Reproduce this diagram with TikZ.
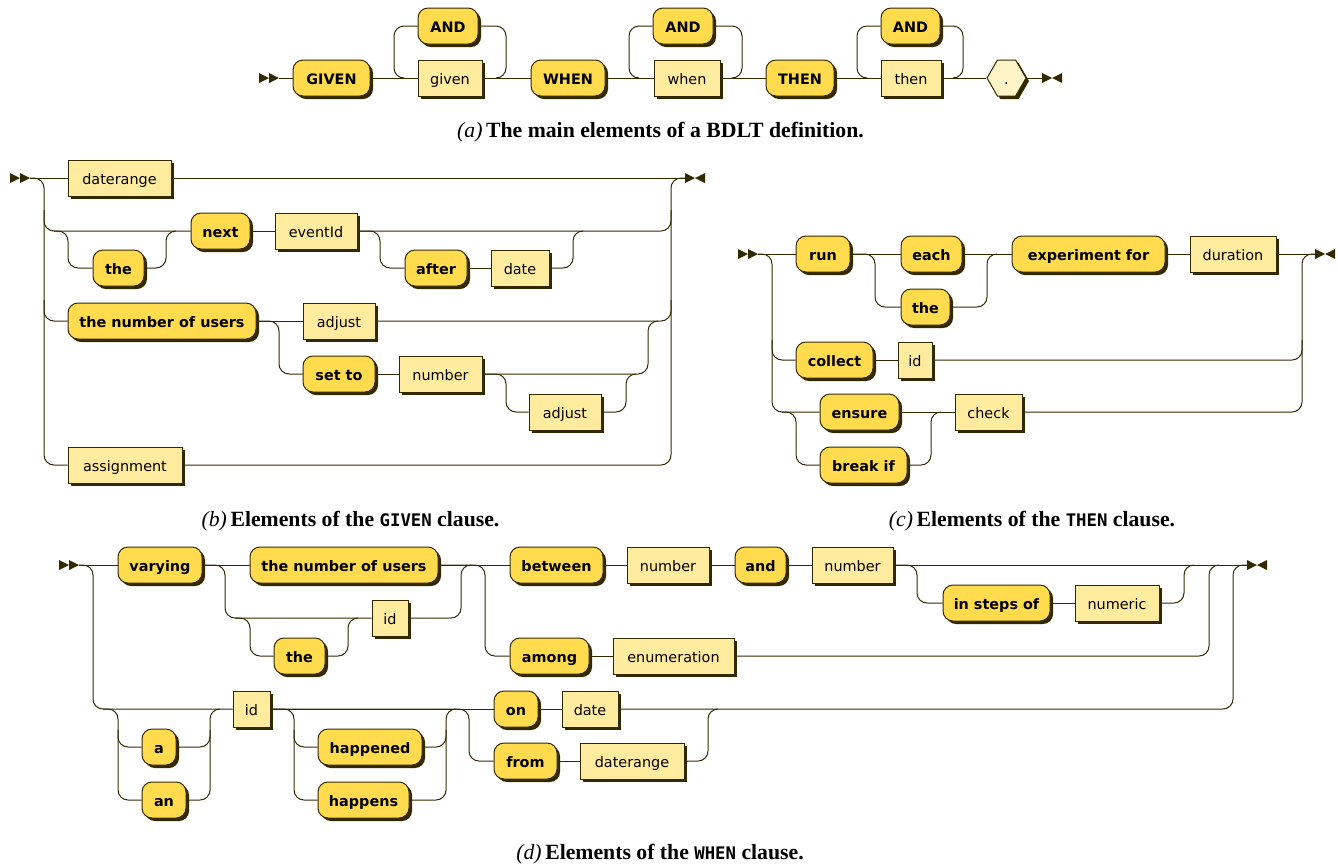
\documentclass[tikz,border=0pt]{standalone}
\usepackage{fontspec}
\setmainfont{Liberation Serif}
\newfontfamily\rrfont{DejaVu Sans}
\newfontfamily\capmono{DejaVu Sans Mono}
\usetikzlibrary{shadows,shapes.symbols}
\definecolor{rrline}{HTML}{332900}
\definecolor{rrterm}{HTML}{FFDB4D}
\definecolor{rrnon}{HTML}{FFEC9E}
\definecolor{rrre}{HTML}{FFF4C7}
\tikzset{
 rrbox/.style={draw=rrline, line width=0.75pt, inner sep=0pt, minimum height=27pt,
   text height=9pt, text depth=0pt, text=black,
   font=\rrfont\fontsize{10.8}{12}\selectfont,
   drop shadow={shadow xshift=2.25pt, shadow yshift=-2.25pt, opacity=1, fill=rrline}},
 term/.style={rrbox, fill=rrterm, rounded corners=7.5pt, font=\rrfont\bfseries\fontsize{10.8}{12}\selectfont},
 nonterm/.style={rrbox, fill=rrnon},
 hexbox/.style={rrbox, fill=rrre, shape=signal, signal to=east and west, signal pointer angle=120},
 bw/.style={minimum width=#1*0.75pt},
 rr/.style={draw=rrline, line width=0.75pt, rounded corners=7.5pt},
 captxt/.style={anchor=base, text=black, font=\bfseries\fontsize{16.3}{19}\selectfont},
 startmark/.pic={\fill[rrline] (-20,-5) -- (-10,0) -- (-20,5) -- cycle (-10,-5) -- (0,0) -- (-10,5) -- cycle;},
 endmark/.pic={\fill[rrline] (0,-5) -- (10,0) -- (0,5) -- cycle (20,-5) -- (10,0) -- (20,5) -- cycle;},
}
\newcommand{\capit}[1]{{\mdseries\itshape #1}\,}
\newcommand{\capcode}[1]{{\capmono\fontsize{13}{16}\selectfont #1}}
\begin{document}
\begin{tikzpicture}[x=0.75pt,y=-0.75pt]
\useasboundingbox (0,0) rectangle (1338,865);
% ---------------- (a)
\pic at (279,78) {startmark}; \coordinate (sa) at (279,78);
\node[term,bw=77] (GIVEN) at (331.5,78) {GIVEN};
\node[term,bw=60] (and1) at (448,26) {AND};
\node[nonterm,bw=64] (given) at (450,78) {given};
\node[term,bw=74] (WHEN) at (568,78) {WHEN};
\node[term,bw=60] (and2) at (683,26) {AND};
\node[nonterm,bw=66] (when) at (687,78) {when};
\node[term,bw=68] (THEN) at (800,78) {THEN};
\node[term,bw=59] (and3) at (910.5,26) {AND};
\node[nonterm,bw=60] (then) at (911,78) {then};
\node[hexbox,bw=39] (dot) at (1006.5,78) {.};
\pic at (1042,78) {endmark}; \coordinate (ea) at (1042,78);
\draw[rr] (sa) -- (GIVEN.west);
\draw[rr] (GIVEN.east) -- (given.west);
\draw[rr] (given.east) -- (WHEN.west);
\draw[rr] (WHEN.east) -- (when.west);
\draw[rr] (when.east) -- (THEN.west);
\draw[rr] (THEN.east) -- (then.west);
\draw[rr] (then.east) -- (dot.west);
\draw[rr] (dot.east) -- (ea);
\draw[rr] (and1.west) -- (394,26) -- (394,78) -- (404,78);
\draw[rr] (and1.east) -- (506,26) -- (506,78) -- (496,78);
\draw[rr] (and2.west) -- (629,26) -- (629,78) -- (639,78);
\draw[rr] (and2.east) -- (742,26) -- (742,78) -- (732,78);
\draw[rr] (and3.west) -- (857,26) -- (857,78) -- (867,78);
\draw[rr] (and3.east) -- (963,26) -- (963,78) -- (953,78);
\node[captxt] (capa) at (660.5,137) {\capit{(a)}The main elements of a BDLT definition.};
% ---------------- (b)
\pic at (30,178) {startmark}; \coordinate (sb) at (30,178);
\node[nonterm,bw=103] (b-daterange) at (119.5,178) {daterange};
\node[term,bw=51] (b-the) at (118.5,268) {the};
\node[term,bw=59] (b-next) at (220.5,231) {next};
\node[nonterm,bw=82] (b-eventId) at (316,231) {eventId};
\node[term,bw=62] (b-after) at (436,268) {after};
\node[nonterm,bw=58] (b-date) at (520,268) {date};
\node[term,bw=188] (b-tnou) at (162,321) {the number of users};
\node[nonterm,bw=72] (b-adjust1) at (339,321) {adjust};
\node[term,bw=72] (b-setto) at (339,374) {set to};
\node[nonterm,bw=83] (b-number) at (440.5,374) {number};
\node[nonterm,bw=72] (b-adjust2) at (565,412) {adjust};
\node[nonterm,bw=114] (b-assign) at (125,465) {assignment};
\pic at (685,178) {endmark}; \coordinate (eb) at (685,178);
\draw[rr] (sb) -- (b-daterange.west);
\draw[rr] (b-daterange.east) -- (eb);
\draw[rr] (sb) -- (44,178) -- (44,465) -- (b-assign.west);
\draw[rr] (b-assign.east) -- (671,465) -- (671,178) -- (eb);
\draw[rr] (44,210) -- (44,231) -- (b-next.west);
\draw[rr] (54,231) -- (68,231) -- (68,268) -- (b-the.west);
\draw[rr] (b-the.east) -- (166,268) -- (166,231) -- (176,231);
\draw[rr] (b-next.east) -- (b-eventId.west);
\draw[rr] (b-eventId.east) -- (671,231) -- (671,210);
\draw[rr] (b-eventId.east) -- (380,231) -- (380,268) -- (b-after.west);
\draw[rr] (b-after.east) -- (b-date.west);
\draw[rr] (b-date.east) -- (573,268) -- (573,231) -- (583,231);
\draw[rr] (44,300) -- (44,321) -- (b-tnou.west);
\draw[rr] (b-tnou.east) -- (b-adjust1.west);
\draw[rr] (b-adjust1.east) -- (671,321) -- (671,300);
\draw[rr] (b-tnou.east) -- (279,321) -- (279,374) -- (b-setto.west);
\draw[rr] (b-setto.east) -- (b-number.west);
\draw[rr] (b-number.east) -- (648,374) -- (648,321) -- (658,321);
\draw[rr] (b-number.east) -- (506,374) -- (506,412) -- (b-adjust2.west);
\draw[rr] (b-adjust2.east) -- (626,412) -- (626,374) -- (636,374);
\node[captxt] (capb) at (350.5,526) {\capit{(b)}Elements of the \capcode{GIVEN} clause.};
% ---------------- (c)
\pic at (758,254) {startmark}; \coordinate (sc) at (758,254);
\node[term,bw=54] (c-run) at (823,254) {run};
\node[term,bw=61] (c-each) at (931.5,254) {each};
\node[term,bw=49] (c-the) at (925.5,307) {the};
\node[term,bw=153] (c-exp) at (1088.5,254) {experiment for};
\node[nonterm,bw=86] (c-dur) at (1233,254) {duration};
\node[term,bw=77] (c-collect) at (834.5,360) {collect};
\node[nonterm,bw=34] (c-id) at (915,360) {id};
\node[term,bw=79] (c-ensure) at (859.5,412) {ensure};
\node[term,bw=87] (c-break) at (863.5,465) {break if};
\node[nonterm,bw=67] (c-check) at (988.5,412) {check};
\pic at (1315,254) {endmark}; \coordinate (ec) at (1315,254);
\draw[rr] (sc) -- (c-run.west);
\draw[rr] (c-run.east) -- (c-each.west);
\draw[rr] (c-each.east) -- (c-exp.west);
\draw[rr] (c-exp.east) -- (c-dur.west);
\draw[rr] (c-dur.east) -- (ec);
\draw[rr] (c-run.east) -- (875,254) -- (875,307) -- (c-the.west);
\draw[rr] (c-the.east) -- (987,307) -- (987,254) -- (997,254);
\draw[rr] (sc) -- (772,254) -- (772,412) -- (c-ensure.west);
\draw[rr] (772,340) -- (772,360) -- (c-collect.west);
\draw[rr] (c-collect.east) -- (c-id.west);
\draw[rr] (c-id.east) -- (1302,360) -- (1302,340);
\draw[rr] (782,412) -- (796,412) -- (796,465) -- (c-break.west);
\draw[rr] (c-ensure.east) -- (c-check.west);
\draw[rr] (c-break.east) -- (931,465) -- (931,412) -- (941,412);
\draw[rr] (c-check.east) -- (1302,412) -- (1302,254) -- (ec);
\node[captxt] (capc) at (1032,526) {\capit{(c)}Elements of the \capcode{THEN} clause.};
% ---------------- (d)
\pic at (79,565) {startmark}; \coordinate (sd) at (79,565);
\node[term,bw=84] (d-varying) at (160,565) {varying};
\node[term,bw=188] (d-tnou) at (344,565) {the number of users};
\node[nonterm,bw=36] (d-id1) at (390,618) {id};
\node[term,bw=51] (d-the) at (299.5,656) {the};
\node[term,bw=93] (d-between) at (556.5,565) {between};
\node[nonterm,bw=82] (d-num1) at (668,565) {number};
\node[term,bw=51] (d-and) at (760.5,565) {and};
\node[nonterm,bw=81] (d-num2) at (852.5,565) {number};
\node[term,bw=107] (d-steps) at (996.5,603) {in steps of};
\node[nonterm,bw=84] (d-numeric) at (1117,603) {numeric};
\node[term,bw=79] (d-among) at (549.5,656) {among};
\node[nonterm,bw=121] (d-enum) at (673.5,656) {enumeration};
\pic at (1247,565) {endmark}; \coordinate (ed) at (1247,565);
\node[term,bw=34] (d-a) at (159,747) {a};
\node[term,bw=44] (d-an) at (164,800) {an};
\node[nonterm,bw=37] (d-id2) at (251.5,709) {id};
\node[term,bw=104] (d-happened) at (370,747) {happened};
\node[term,bw=91] (d-happens) at (363.5,800) {happens};
\node[term,bw=44] (d-on) at (516,709) {on};
\node[nonterm,bw=56] (d-date) at (590,709) {date};
\node[term,bw=63] (d-from) at (525.5,761) {from};
\node[nonterm,bw=104] (d-dr) at (632,761) {daterange};
\draw[rr] (sd) -- (d-varying.west);
\draw[rr] (d-varying.east) -- (d-tnou.west);
\draw[rr] (d-tnou.east) -- (d-between.west);
\draw[rr] (d-between.east) -- (d-num1.west);
\draw[rr] (d-num1.east) -- (d-and.west);
\draw[rr] (d-and.east) -- (d-num2.west);
\draw[rr] (d-num2.east) -- (ed);
\draw[rr] (d-varying.east) -- (225,565) -- (225,618) -- (d-id1.west);
\draw[rr] (235,618) -- (250,618) -- (250,656) -- (d-the.west);
\draw[rr] (d-the.east) -- (348,656) -- (348,618) -- (358,618);
\draw[rr] (d-id1.east) -- (461,618) -- (461,565) -- (471,565);
\draw[rr] (d-tnou.east) -- (485,565) -- (485,656) -- (d-among.west);
\draw[rr] (d-among.east) -- (d-enum.west);
\draw[rr] (d-enum.east) -- (1209,656) -- (1209,565) -- (1219,565);
\draw[rr] (d-num2.east) -- (917,565) -- (917,603) -- (d-steps.west);
\draw[rr] (d-steps.east) -- (d-numeric.west);
\draw[rr] (d-numeric.east) -- (1184,603) -- (1184,565) -- (1194,565);
\draw[rr] (sd) -- (93,565) -- (93,709) -- (d-id2.west);
\draw[rr] (103,709) -- (118,709) -- (118,800) -- (d-an.west);
\draw[rr] (118,730) -- (118,747) -- (d-a.west);
\draw[rr] (d-a.east) -- (210,747) -- (210,709) -- (220,709);
\draw[rr] (d-an.east) -- (210,800) -- (210,730);
\draw[rr] (d-id2.east) -- (d-on.west);
\draw[rr] (d-id2.east) -- (294,709) -- (294,800) -- (d-happens.west);
\draw[rr] (294,730) -- (294,747) -- (d-happened.west);
\draw[rr] (d-happened.east) -- (446,747) -- (446,709) -- (456,709);
\draw[rr] (d-happens.east) -- (446,800) -- (446,730);
\draw[rr] (d-on.east) -- (d-date.west);
\draw[rr] (d-date.east) -- (1233,709) -- (1233,565) -- (ed);
\draw[rr] (d-id2.east) -- (469,709) -- (469,761) -- (d-from.west);
\draw[rr] (d-from.east) -- (d-dr.west);
\draw[rr] (d-dr.east) -- (708,761) -- (708,709) -- (718,709);
\node[captxt] (capd) at (660,859) {\capit{(d)}Elements of the \capcode{WHEN} clause.};
\end{tikzpicture}
\end{document}
